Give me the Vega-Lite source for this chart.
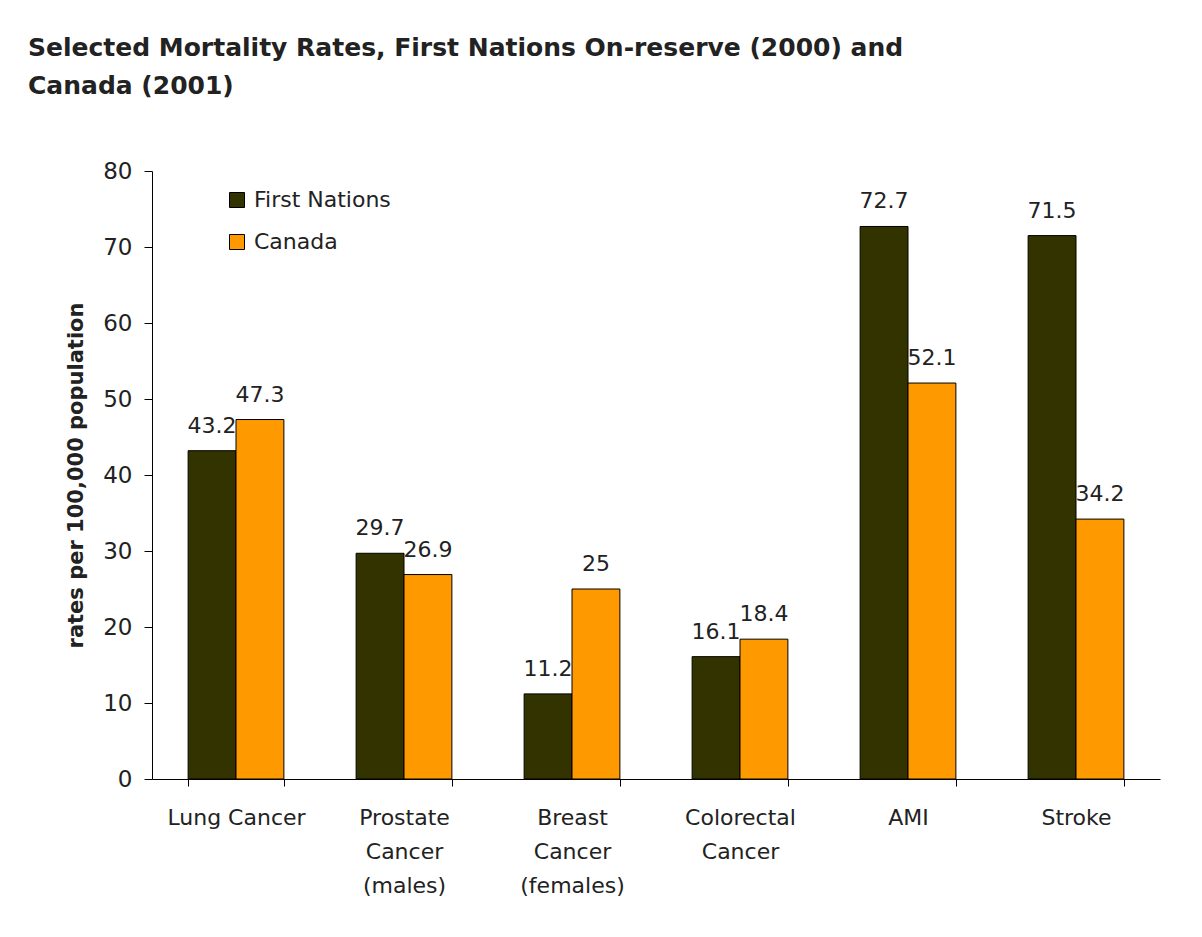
{
  "$schema": "https://vega.github.io/schema/vega-lite/v6.json",
  "width": 1008,
  "height": 608,
  "autosize": "none",
  "padding": {"left": 152, "top": 171, "right": 42, "bottom": 158},
  "background": "white",
  "title": {
    "text": ["Selected Mortality Rates, First Nations On-reserve (2000) and", "Canada (2001)"],
    "anchor": "start",
    "frame": "group",
    "font": "DejaVu Sans",
    "fontSize": 25,
    "fontWeight": "bold",
    "color": "#222222",
    "lineHeight": 38,
    "dx": -124,
    "baseline": "top",
    "offset": 0,
    "dy": -61
  },
  "data": {
    "values": [
      {"cause": "Lung Cancer", "group": "First Nations", "value": 43.2},
      {"cause": "Lung Cancer", "group": "Canada", "value": 47.3},
      {"cause": "Prostate Cancer (males)", "group": "First Nations", "value": 29.7},
      {"cause": "Prostate Cancer (males)", "group": "Canada", "value": 26.9},
      {"cause": "Breast Cancer (females)", "group": "First Nations", "value": 11.2},
      {"cause": "Breast Cancer (females)", "group": "Canada", "value": 25},
      {"cause": "Colorectal Cancer", "group": "First Nations", "value": 16.1},
      {"cause": "Colorectal Cancer", "group": "Canada", "value": 18.4},
      {"cause": "AMI", "group": "First Nations", "value": 72.7},
      {"cause": "AMI", "group": "Canada", "value": 52.1},
      {"cause": "Stroke", "group": "First Nations", "value": 71.5},
      {"cause": "Stroke", "group": "Canada", "value": 34.2}
    ]
  },
  "encoding": {
    "x": {
      "field": "cause",
      "type": "nominal",
      "sort": null,
      "scale": {"paddingInner": 0.43, "paddingOuter": 0.215},
      "axis": {
        "title": null,
        "labelAngle": 0,
        "labelFont": "DejaVu Sans",
        "labelFontSize": 22,
        "labelColor": "#222222",
        "labelLineHeight": 34,
        "labelPadding": 21,
        "labelBaseline": "top",
        "tickBand": "extent",
        "tickSize": 7,
        "tickColor": "black",
        "domainColor": "black",
        "labelExpr": "datum.label == 'Prostate Cancer (males)' ? ['Prostate', 'Cancer', '(males)'] : datum.label == 'Breast Cancer (females)' ? ['Breast', 'Cancer', '(females)'] : datum.label == 'Colorectal Cancer' ? ['Colorectal', 'Cancer'] : datum.label"
      }
    },
    "xOffset": {
      "field": "group",
      "type": "nominal",
      "scale": {"domain": ["First Nations", "Canada"], "paddingInner": 0, "paddingOuter": 0}
    },
    "y": {
      "field": "value",
      "type": "quantitative",
      "scale": {"domain": [0, 80], "nice": false},
      "axis": {
        "title": "rates per 100,000 population",
        "titleFont": "DejaVu Sans",
        "titleFontSize": 21,
        "titleFontWeight": "bold",
        "titleColor": "#222222",
        "titlePadding": 16,
        "values": [0, 10, 20, 30, 40, 50, 60, 70, 80],
        "grid": false,
        "labelFont": "DejaVu Sans",
        "labelFontSize": 23,
        "labelColor": "#222222",
        "labelPadding": 12,
        "tickSize": 8,
        "tickColor": "black",
        "domainColor": "black"
      }
    }
  },
  "layer": [
    {
      "mark": {"type": "bar", "stroke": "black", "strokeWidth": 1},
      "encoding": {
        "color": {
          "field": "group",
          "type": "nominal",
          "scale": {"domain": ["First Nations", "Canada"], "range": ["#333300", "#FF9900"]},
          "legend": {
            "title": null,
            "orient": "none",
            "legendX": 74,
            "legendY": 18,
            "symbolType": "square",
            "symbolSize": 225,
            "symbolStrokeColor": "black",
            "symbolStrokeWidth": 1,
            "labelFont": "DejaVu Sans",
            "labelFontSize": 22,
            "labelColor": "#222222",
            "labelOffset": 6,
            "rowPadding": 20
          }
        }
      }
    },
    {
      "mark": {"type": "text", "baseline": "alphabetic", "dy": -18, "font": "DejaVu Sans", "fontSize": 22, "color": "#222222"},
      "encoding": {
        "text": {"field": "value", "type": "quantitative", "format": ".1~f"}
      }
    }
  ],
  "config": {
    "view": {"stroke": null}
  }
}
